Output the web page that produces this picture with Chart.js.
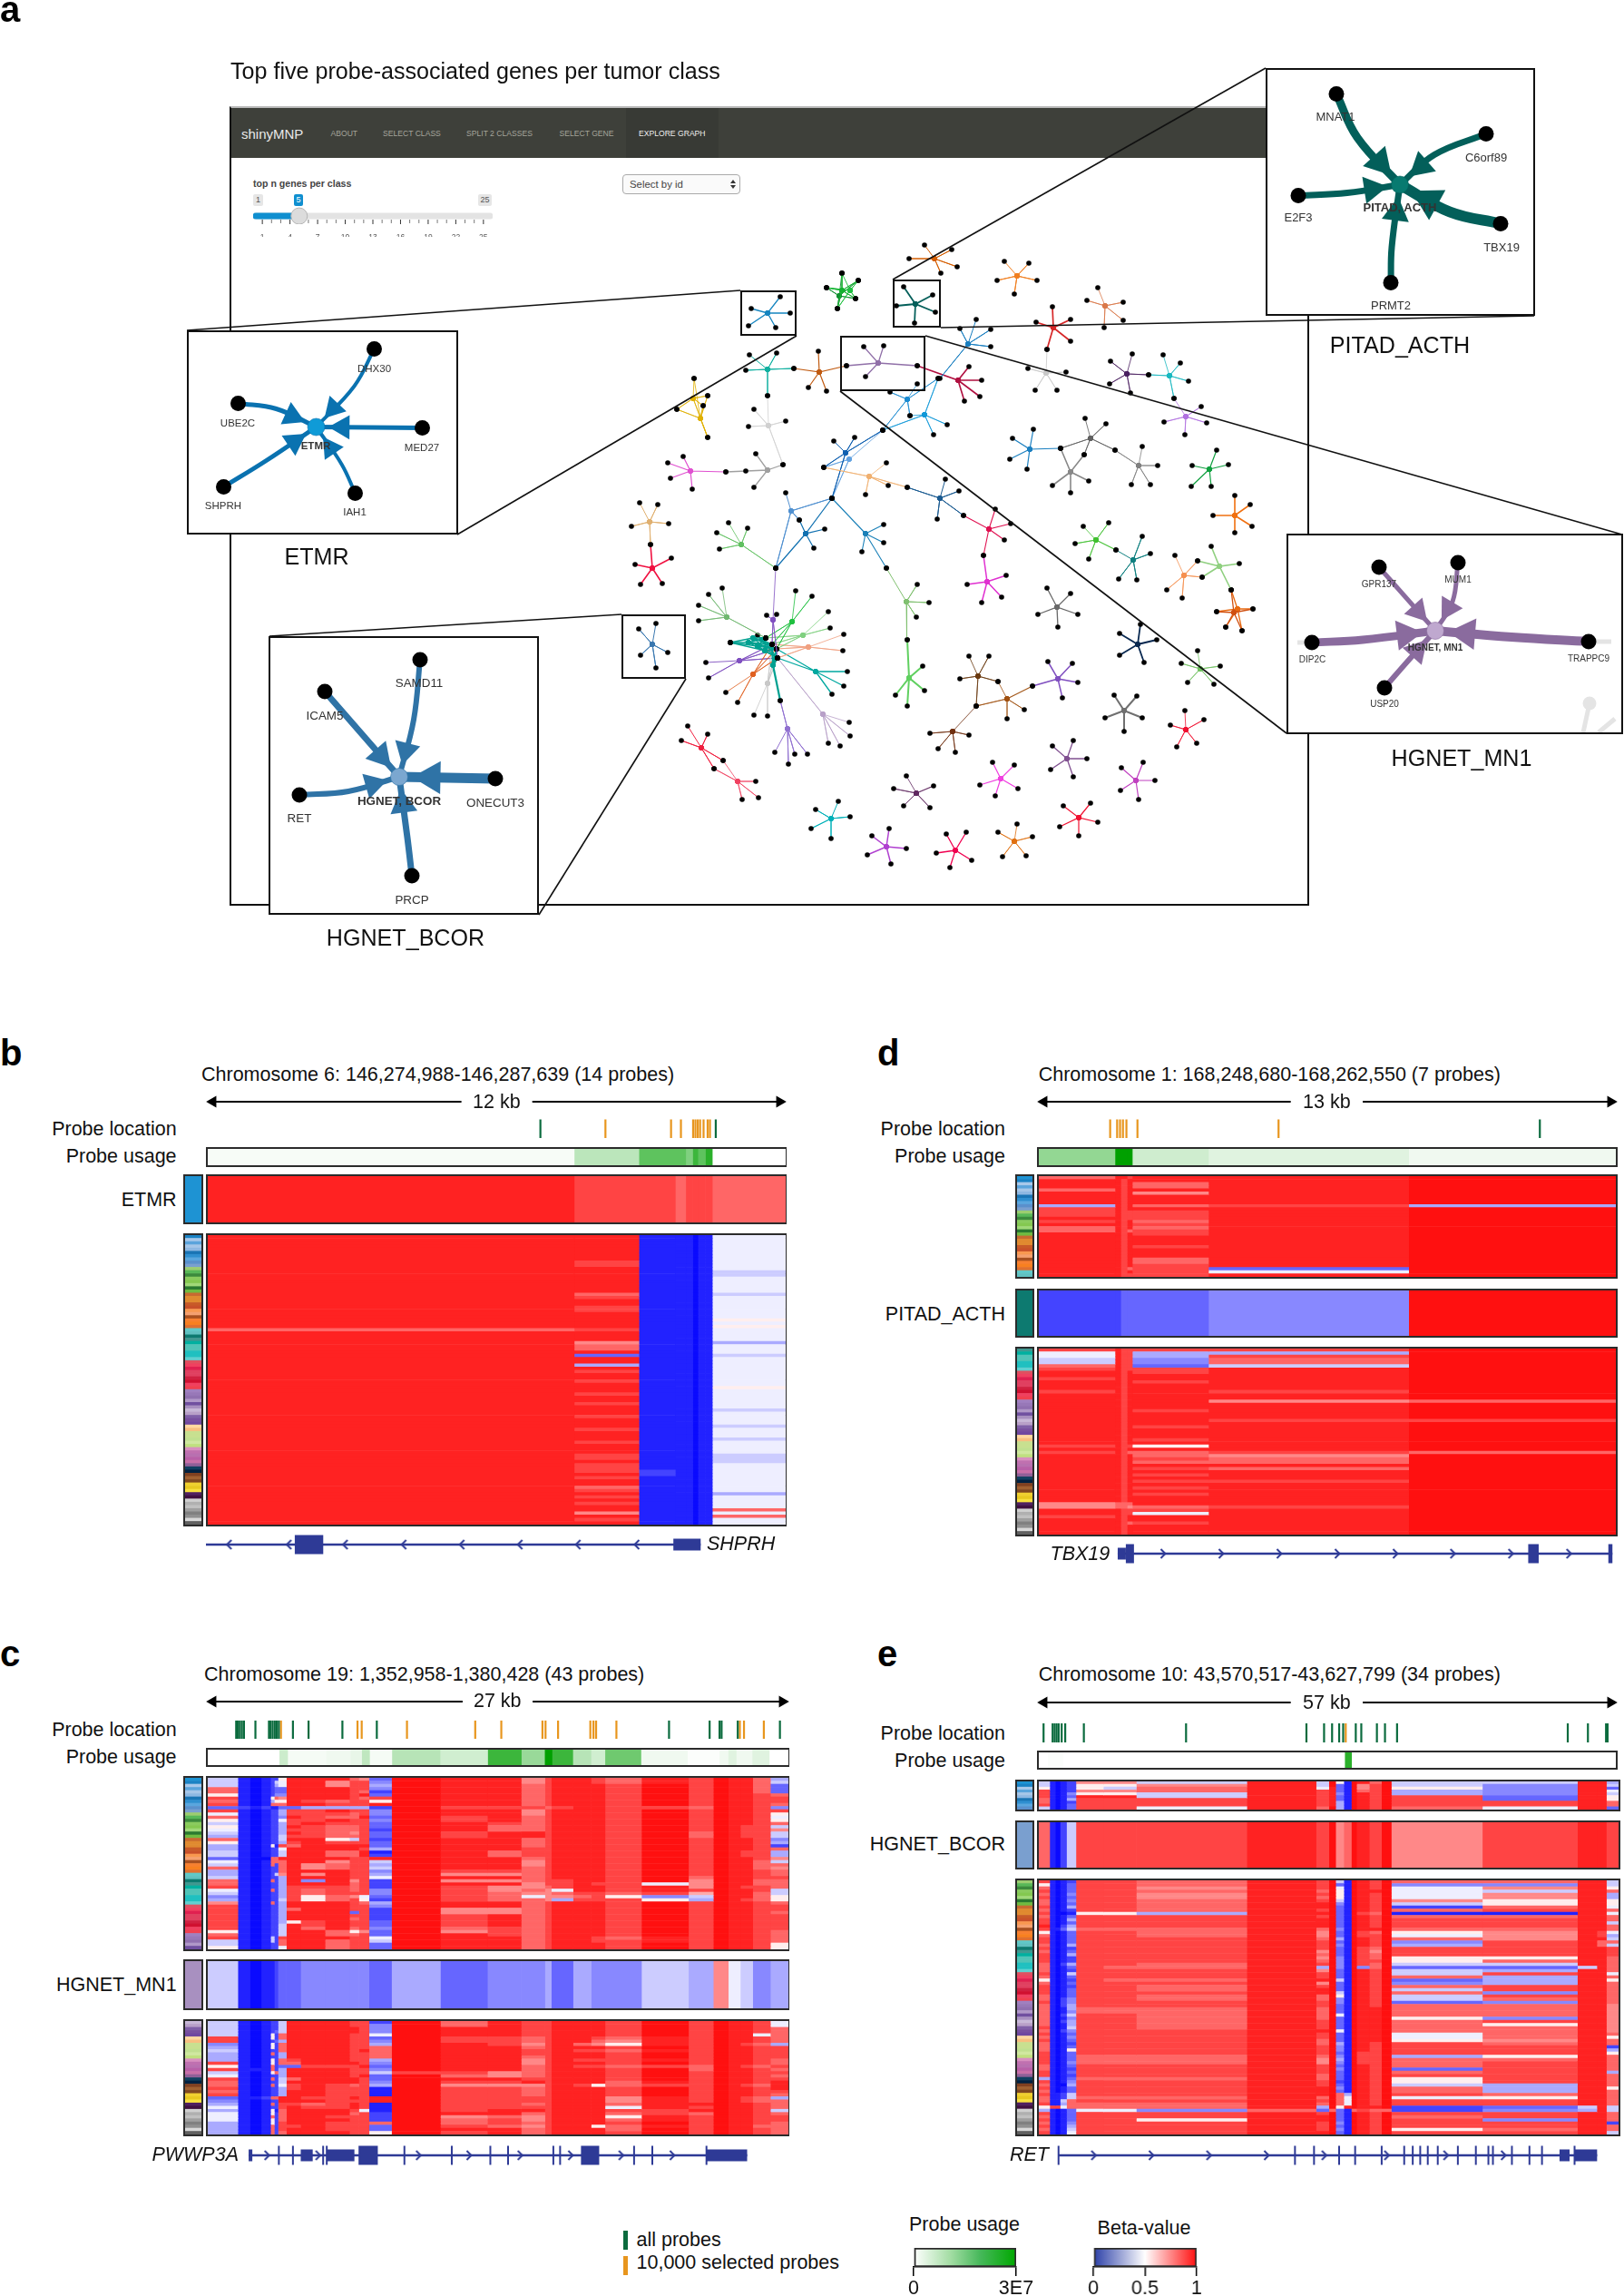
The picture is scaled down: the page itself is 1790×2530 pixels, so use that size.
<!DOCTYPE html>
<html>
<head>
<meta charset="utf-8">
<style>
  body { margin: 0; background: #fff; width: 1790px; height: 2530px; position: relative; overflow: hidden; font-family: "Liberation Sans", Arial, sans-serif; color: #111; }
  .t { position: absolute; white-space: nowrap; line-height: 1; }
  .b { position: absolute; box-sizing: border-box; }
  canvas { position: absolute; left: 0; top: 0; }
</style>
<script src="https://cdn.jsdelivr.net/npm/chart.js@4"></script>
</head>
<body>
<script>
// class colours, in heatmap row order (91 tumor classes)
const classColors = [
  '#1e93d3','#1a82c4','#a8c8ea','#5ba4dc','#a6c6e8','#8eb8e2','#1a75b5','#2f8fd0','#5aa6de','#5a90cc','#7a9fcf',
  '#9ccc70','#58b858','#3c8a3c','#8acb5e','#84c850','#a0d878','#2a7a30','#70bb40',
  '#c86a30','#e08a30','#e08a30','#c85a28','#c8502a','#f89850','#f4a070','#a85020','#f88030','#f88020','#e07030',
  '#60c8c8','#60c0c0','#0d7a70','#409890','#00b0a0','#50c4b8','#50c4b8','#20c0c0','#20c0c0','#60d0d0',
  '#e05060','#f04060','#e02050','#e04060','#e04060','#d02040','#d01030','#f04060','#f04050',
  '#a080c0','#9878b8','#9070b0','#b098c8','#7050a0','#a890c0','#c8b8d8','#b8a0c8','#8060a8','#7850a0','#7048a0',
  '#ffd8a0','#f8c080','#c8e090','#c8e090','#c0e090','#d0e8a0','#c0e080',
  '#d890c0','#c070b0','#b870b0','#b860a8','#c870a8','#906098',
  '#104060','#002040','#804020','#a06030','#804820','#f0d030','#e8c820','#f8e040','#502060','#401040',
  '#d0d0d0','#b0b0b0','#c0c0c0','#a0a0a0','#808080','#909090','#d8d8d8','#606060'
];

// panel b, SHPRH. Column edges and probe positions are % of the region, cells are beta x 15 in hex
const bBreaks = [0,63.4,74.6,80.9,82.7,83.9,84.8,86.1,87.3,100];
const bGreen = [57.6,87.8];
const bOrange = [68.8,80.1,81.8,83.9,84.3,84.7,85.1,85.7,86.4,86.8];
const bUsage = [0.1,0.8,1.9,1.9,1.5,2.3,1.9,2.5,0];
const bTarget = ['eddcddddc'];
const bRows = [
  'ee1110117','ee1110117','ee1110117','ee1110117','ee1110117','ee1110117','ee1110117','ee1110117','ed1110117','ed1110117',
  'ee1110117','ee1110116','ee1110116','ee1110117','ee1110117','ee1110117','ee1110117','ee1110117','ec1110116','ed1110117',
  'ee1110117','ee1110117','ed1110117','ed1110117','ee1110117','ee1110117','ee1110118','ee1110117','ee1110118','cd1110117',
  'ee1110117','ee1110117','ee1110117','eb1110115','ec1110117','ec1110117','ee1110117','e31110116','ee1110117','ee1110117',
  'e51110117','ee1110117','ed1110117','ee1110117','ee1110117','ed1110117','ee1110117','ee1110118','ee1110117','ed1110117',
  'ee1110117','ee1110117','ed1110117','ee1110117','ee1110116','ee1110117','ed1110117','ee1110117','ee1110117','ee1110116',
  'ed1110117','ee1110117','ee1110117','ee1110116','ed1110117','ee1110117','ee1110117','ee1110117','ed1110116','ed1110116',
  'ee1110116','ed1110117','ed1110117','ed2110117','ee2110117','ed1110117','ee1110117','ee1110117','ec1110117','ed1110117',
  'ee1110115','ed1110117','ee1110117','ed1110117','ee1110117','ee111011c','eb1110117','ee111011c','ed1110117','ee1110117'
];

// panel d, TBX19
const dBreaks = [0,13.2,14.2,15.3,16.2,29.4,64.1,100];
const dGreen = [86.6];
const dOrange = [12.6,13.8,14.3,14.8,15.4,17.3,41.6];
const dUsage = [1.27,3,3,3,0.57,0.37,0.18];
const dTarget = ['223334f'];
const dUpper = [
  'ceedeef','eedeeef','eedecef','eedecef','cedeeef','eedebef','eedeeef','eedeeef','eedeeef','5edecd5',
  'dedeeef','dedddef','dedddef','eedddef','dedecef','eededef','cedecef','cedcdef','eededef','eedeeef',
  'eedeeef','eedeeef','eededef','eedeeef','eedeeef','eedeeef','eedecef','eedecef','eededef','eedcd3f',
  'eeded7f','eedddef'
];
const dLower = [
  'deddddf','7edd55f','7edd5df','6edd4cf','6edd4cf','cedd36f','dedddef','eededef','eedeeef','dedeeef',
  'eededef','eedeeef','eedeeef','dedeedf','eedeeef','eedeeef','eedeebc','eedeeef','eedeeef','eededef',
  'eedeeef','eedeeef','eedeedd','eedeeef','eededef','eedeeef','eedeeef','eedeeef','eededef','eedeeef',
  'dedd8ef','eedeeef','dedccdc','eedecbf','eededcf','eedeccf','eedeeef','eededcf','eedeeef','eededef',
  'eedeeef','eededdf','eedeeef','eededef','eedeeef','eededef','eedeeef','eedeeef','bccceef','bccbcdf',
  'eedddef','eedd7ef','dedeeef','eedeeef','eedcdef','eedeeef','eedeeef','eedeeef'
];

// panel c, PWWP3A
const cBreaks = [0,5.18,7.25,9.19,10.81,11.46,12.1,13.53,15.99,20.19,24.4,26.02,27.77,31.65,40.06,48.16,53.98,58.06,59.16,62.91,66.02,68.41,74.69,82.78,87.06,89.64,91.72,93.85,96.89,100];
const cGreen = [5.18,5.45,5.8,6.16,6.52,8.48,10.8,11.07,11.43,11.79,12.14,12.5,14.91,17.59,23.39,29.29,79.38,86.34,88.04,88.39,91.16,98.39];
const cOrange = [12.86,25.98,26.7,34.46,46.16,50.63,57.68,58.21,60.36,65.89,66.43,66.88,70.36,91.52,92.23,95.63];
const cUsageBreaks = [0,12.3,13.75,20.36,24.55,26.5,27.86,31.7,40,48.2,54,58,59.3,62.86,66,68.4,74.6,82.6,88.1,89.6,91,93.75,96.7,100];
const cUsage = [0,0.6,0.12,0.18,0.27,0.75,0.12,0.85,0.55,2.3,1.2,3,2.3,0.85,0.55,1.7,0.18,0.05,0.18,0.37,0.18,0.37,0];
const cTarget = ['6 101 123 34444 3 534453 54465b 764 5'];
const cUpper = [
  '6 101 228 eeecb 3 feebde edcedf eec 5','6 101 267 eebdd 4 feebde edcedf eec 6','6 101 257 eebdd 5 feecde eedfdf eec 3',
  'c 101 233 eeedd 4 feecde eedfdf eec 3','c 101 233 eeedc 2 feecde eedfdf eec 3','8 101 244 eeede 3 feecde eedfdf eed c',
  'd 101 8cb eeedc d feecde eedfdf eed d','c 101 588 edcdd 8 feecde eedfdf eed d','d 101 ccc eeddd e feecde eedfdf eed c',
  '3 212 113 35555 2 fdddcd eeddcf eed 4','d 101 225 ddedd 4 feebde eedfdf eed d','7 101 225 dddcd 4 feebde eedfdf eed 8',
  'c 101 224 edcce 3 fdecde eedfdf eed 7','8 101 227 ddedd 4 fdecde eedfdf eed 8','6 101 225 deddd 3 fedcde eedfdf eed c',
  '8 101 225 edccd 3 feccde eedfdf edd 6','7 101 225 ddccd 2 feccde eedfdf edd b','6 101 225 edcbd 3 fdeede eedfcf edd 6',
  '5 101 226 ddccd 3 fdeede eedfcf edd 6','c 101 226 ee86d 2 feecde eedfdf eed 4','8 101 225 deddd 3 feecde eedfdf eed 5',
  '5 101 81d ceeee 3 feecde eedfdf eed 2','5 101 227 eeeed 5 feedde eedfdf eed c','6 101 226 eecce 1 fecdde eedfdf edd 5',
  '6 101 226 eecce 2 fecdde eedfdf edd 5','3 100 cce eeedd e feecde eedfdf eed b','7 101 ccc eebdd 6 feebde eedfdf eec 6',
  '6 101 c2c ebcdd 5 feebde eedfdf eec c','c 101 22c ebcdd 6 feecde eedfdf eec b','5 101 22c eeedd 4 fddcde eedfdf eed c',
  '5 101 26b ebedd 5 fbbcde eedfdf eed c','6 101 225 eeedd 7 feecde eedfcf eed d','c 101 c25 e4ebd 2 fbbcdd eedfbf eec c',
  'c 101 225 eeecd 2 feebdd edd7bf eec c','d 101 225 dddcd 2 fdbbcd eedebf edd c','7 101 c25 dcdcd 4 fdbcb7 eededf eed 6',
  '6 101 225 dcddd 4 fdcbbc ddcdaf eec 6','4 101 225 d8cb7 3 fdc7bb cd846f eec 8','5 101 226 d8cd8 2 fdccb5 ddd85f edc 8',
  'b 101 c25 eeedc 5 feecde eedfdf eed c','d 101 225 eeedd 4 feecde eedfdf eed d','d 101 225 ceedd 2 fbbcde eedfdf eed d',
  'd 101 225 eee3d 2 fbbcde eedfdf eed c','d 101 225 eeedd 2 fdecde eedfdf eed d','d 101 225 eeecd 2 fdecde eedfdf eed d',
  'd 101 225 8dedd 3 fdecde eedfdf eed d','d 101 226 ededd 3 fdecde eedfdf eed d','d 101 226 ececd 4 fcdcde eedfdf eed d',
  '8 101 226 eec8b 3 fbdcde eedfdf eed c','c 101 226 eeccd 3 fedcde eedfdf eed c','d 101 62d eeedd 7 feecde edcedf eed c',
  '6 101 62c eecdd 6 feecde eddedf eed c','6 101 22c eecdd 3 feecde eedfdf eed 8','8 101 227 eecdd 3 feecde eedfdf eed 8'
];
const cLower = [
  '6 101 226 eeedd 2 fcedde eedfdf eed 7','6 101 226 eeedd 4 fcedde eedfdf eed 7','6 101 226 eeeed 4 feedde eedfdf eed c',
  '6 101 236 eeeed 4 feedde eedfdf eed c','6 101 82c eeedd 7 feedde eedfdf ee7 c','d 101 82c eeedd 3 fddcde edcedf eed c',
  'd 101 235 eeedd 4 fddcde ecbedf eed c','4 101 82c eeedd 5 fedbde cb8edf edc 5','5 101 82c eeedd c feecde eedfdf eed d',
  '6 101 22c eeede c feedde ddcedf eed d','5 101 c25 eeedd c feedde eedfdf eed d','5 101 225 eeedd c feecde eedfdf eed d',
  '5 101 82c deedd 5 feebde dddedf eed c','d 101 82c ceeed 4 feebde eedfdf eed c','8 101 c23 3ddde 3 feecde ddcdcf edc d',
  'd 111 c25 eeedd 4 feecde eedfcf eed c','6 101 8c5 eeedd 6 ddbcde eedfdf eed d','7 101 225 eeede 3 fcbcde eedfdf eed c',
  'd 101 c26 ceeed 3 feedde eedfdf eed d','c 101 226 eeeed 4 fddede eecedf eed e','c 101 c27 dedcd 5 fbbbde d8cddf edc e',
  'd 101 225 deddd 1 fddcde eedfdf eed e','c 101 225 eeddd 1 fddcde eedfdf eed d','d 101 225 eeddd 1 fddcde eedfdf eed c',
  '3 112 cce edded e fdddde eebedf edc 5','4 101 22e eeddd e fdddde eebedf edc c','5 101 c2d dcded 1 fddcde eeceef eed c',
  '7 101 22d edded 1 fdddde ee7edf eed c','5 101 81c eeed7 1 fdeede eeddef eed 6','7 101 82c eeecd 2 feecde eecdcf eed c',
  '7 101 c2c eeddd 2 fbcbde ee8edf eed d','7 101 82c eeedd 2 fcdbde eecedf eed d','5 101 82d eeddd c fcdcde eedfdf eed c',
  '5 101 c2d deddd 3 fdcbde e8cedf eec c','5 101 c2d eeddd 3 feecde eecfdf eed c','5 101 c2c eeedd 8 fdecde eedfdf eed c'
];

// panel e, RET
const eBreaks = [0,1.87,2.84,3.68,4.78,6.4,11.12,16.81,35.88,47.83,50.03,51.2,52.6,53.9,54.8,57,59.1,60.8,76.5,92.9,96.25,97.9,100];
const eGreen = [1.13,2.69,3.04,3.38,3.73,4.25,4.86,8.07,25.67,46.4,49.44,50.82,52.04,52.73,54.9,55.85,58.54,59.93,62.01,91.41,94.88,98,98.27];
const eOrange = [53.17];
const eUsageBreaks = [0,1.5,4.2,53,54.2,100];
const eUsage = [0,0.05,0,2.5,0];
const eTarget = ['c 1026 ddd edf bc fedf bd eed'];
const eUpper = [
  '6 1012 bb6 e6f 81 fecf 66 ee5','6 1012 88b e6f 31 fbdf 64 ee6','8 1012 86c e7e 31 fbdf 84 ee3','d 1012 bbc ede 31 fcdf 54 ee7',
  'd 1014 886 ede 41 fedf 54 ee6','d 1013 ee6 ede 31 fedf d3 ee8','c 1015 ddd ede 31 fedf d3 ee8','c 1012 ddd ede 51 fedf dd eec',
  'd 1013 ddd ede 51 fedf dd eec','6 1013 dd7 ecf 51 fedf c7 ee3'
];
const eLower = [
  'd 1012 ddc edf 61 fedf cc ee6','8 1013 ddc edf 31 fedf 44 ee6','c 1013 ddb edf 71 fedf 7b ee8','d 1013 ddc ecf 81 feef 76 eec',
  'c 1014 ddb edf 81 fedf 7b ee5','d 1013 ddb ecf 81 fedf 7b ee5','c 1014 ddc edf 61 fedf b8 ee8','c 1013 ddc eef 41 fedf 68 ee8',
  'd 1015 ddc eef 31 fedf 2c ee7','c 1012 ddc edf 31 fedf cd eec','d 1001 885 eef 31 fdcf 11 ee7','c 1013 ddd edf 31 fedf cc eec',
  'd 1015 ddd eef 31 fedf dd eec','d 1013 ddd eef 31 fedf dd ee6','e 1025 ddd eef 31 fedf dd eec','d 1136 ccc ecf 41 feef cc eec',
  '8 1013 ddc ebf 31 fdcf 8b ed7','c 1013 ddc ebf 31 fddf 7b ed5','d 1013 ddd ecf 51 fedf cb ee6','d 1013 ddd edf 31 fedf 4d ecc',
  'c 1015 ddd edf 41 fedf 5d ec6','d 1012 ddd edf 31 fdcf dd eed','c 1013 ddd ebf 31 fdbf dd eed','d 1015 ddd ecf 31 fdcf dd eed',
  'd 1012 ddd ebf 41 fdcf 88 eec','d 1012 ddd ecf 41 fddf 8c eec','c 1025 ddc edf 41 fdcf 66 eec','c 1013 dcc e5f 41 f4cf 33 6ec',
  'c 1012 ddd ebf 31 fedf 65 eec','d 1016 ddd edf 31 fedf 6d ee7','c 1013 ddd edf 31 fedf c5 eec','8 1012 dcc eef 61 fedf 35 ee8',
  'c 1013 ddd ebf 31 fedf 45 eec','d 1012 ddc edf 31 fedf cd eec','d 1013 ddc eef 31 fedf 6d eec','d 1013 ddd eef 61 fedf c4 eec',
  'c 1013 ddc ecf 81 fedf 6d eec','c 1024 ddc ecf 41 fedf 6c eec','d 1024 ddd edf 41 fedf 34 eec','c 1025 ddd edf 31 fedf cc eeb',
  'c 1015 ccc ecf 31 feef cc eeb','c 1014 ccc ecf 31 feef cc eeb','c 1026 ddc ecf 71 feef cc eeb','c 1014 ddc ecf 31 feef 84 eeb',
  'c 1025 ddc edf 31 feef cd eeb','c 1015 ddc edf 31 feef c8 eeb','d 1016 ddc edf 31 feef cc eeb','c 1024 ddd eef 71 feef cc eeb',
  'd 1013 ddd edf 31 feef 7c eec','c 1014 ddd edf 31 feef 7c ee8','d 1013 ddd ecf 31 feef 8b eec','c 1012 ddd ecf 51 fedf dc eec',
  'c 1013 ddd edf 41 fedf dd ee2','c 1018 ddd edf 41 fedf dd ee5','d 1013 ddd edf 31 fddf dd ee8','d 1013 ccc ecf 41 fddf 58 eec',
  'd 1013 ccc ebf 51 fddf cc eec','d 1014 ccc ebf 41 fddf cd eec','c 1013 ddd edf 31 fedf cd eec','c 1012 ddd edf 41 fedf 3d eec',
  'd 1013 ddd edf 31 fedf cd ee5','d 1012 ddd ecf 31 fedf dd eec','5 1013 ccc ecf 31 fedf 8d eec','d 1014 ddd edf 21 fedf 8d eec',
  'c 1005 ddd edf 31 fedf 65 eec','d 1013 ddd eef 41 fedf c5 ee8','c 1013 ddd eef 31 fedf c5 eec','d 1126 ddd eef c5 fedf dc eec',
  'c 1126 ccc ecf c7 fedf 78 eec','c 116c ddd edf c7 fedf dd eec','d 115c ccc ecf c7 fedf dd eec','8 dd7c ccc e5f 8e feef 23 6e6',
  '5 1013 774 c3c 31 cdcc 24 5e6','d 1013 ddd edf 31 fedf dd eec','c 1013 ddd eef 31 fedf cd eec','d 1013 dd8 eef 31 fedf d4 eec',
  'c 1014 ddd edf 41 fedf dd ee2','d 1015 ddd edf 31 fedf dd eec','c 1016 ddd edf 41 fedf 8c eec','d 1017 ddd eef 31 fedf dd ee6'
];

// gene models: % of region. exons [start, end], narrow exons, chevrons
const bGene = { line: [0,85.2], tall: [[15.3,20.2]], mid: [[80.5,85.2]], narrow: [], arrows: [4,14.3,24,34.1,44.1,54.1,64.1,74.2], left: true };
const dGene = { line: [13.9,99.1], tall: [[15.3,16.7],[84.6,86.4],[98.4,99.1]], mid: [[13.9,15.3]], narrow: [], arrows: [21.7,31.7,41.7,51.7,61.7,71.6,81.6,91.6], left: false };
const cGene = { line: [7.32,92.77], tall: [[26.16,29.46],[64.29,67.41]], mid: [[7.32,7.95],[16.25,18.3],[20.71,25.45],[85.8,92.77]],
  narrow: [12.5,14.91,20.09,20.71,34.02,42.14,48.75,51.79,59.55,60.71,73.39,76.52,85.8], arrows: [10.45,19.2,36.43,45.09,53.84,62.5,71.16,79.91], left: false };
const eGene = { line: [3.71,96.46], tall: [], mid: [[89.99,91.72],[92.58,96.46]],
  narrow: [3.71,44.43,47.71,52.03,54.79,59.36,63.24,64.71,66,67.3,69.02,72.48,75.58,77.74,78.52,81.79,84.81,86.97,92.58], arrows: [9.75,19.67,29.59,39.52,49.44,60.22,70.41,80.33], left: false };

// network of panel a, hub and leaf positions
const netHubs = [
  [1030,285],[1121,304],[928,320],[937,320],[925,326],[1009,335],[1218,337],[1161,361],[1067,379],[1153,411],
  [1242,412],[1289,414],[968,400],[1056,419],[903,410],[1307,459],[1000,440],[1019,457],[1135,495],[1202,483],
  [1180,520],[1255,513],[1333,517],[1361,568],[1036,549],[958,525],[932,499],[936,506],[954,588],[1090,583],
  [1088,641],[1208,595],[1249,617],[1305,634],[1344,624],[1360,675],[1364,671],[1165,669],[1254,710],[1323,737],
  [999,663],[1002,747],[1078,745],[1110,770],[1166,748],[1239,783],[1307,804],[1050,806],[1176,836],[1252,860],
  [1103,858],[1010,874],[1189,901],[1118,927],[1053,937],[977,933],[916,902],[716,575],[719,626],[817,600],
  [872,563],[888,588],[719,710],[801,680],[852,683],[873,685],[885,700],[891,713],[899,740],[830,703],
  [835,712],[843,717],[825,708],[840,705],[852,733],[830,743],[846,753],[815,728],[907,787],[868,803],
  [773,824],[813,861],[846,345],[846,407],[764,439],[772,461],[847,469],[761,519],[846,518]
];
const netLeaves = [
  [[1019,270],[1049,275],[1002,285],[1055,294],[1037,301]], [[1107,288],[1134,290],[1099,309],[1143,309],[1118,324]],
  [[928,301],[946,309],[911,317],[943,329],[923,340]], [[928,301],[946,309],[911,317],[943,329],[923,340]], [[928,301],[946,309],[911,317],[943,329],[923,340]],
  [[996,316],[1028,325],[988,337],[1031,344],[1008,356]], [[1210,317],[1198,331],[1238,333],[1238,353],[1217,361]],
  [[1160,338],[1142,355],[1180,352],[1180,376],[1154,385]], [[1076,352],[1058,362],[1092,363],[1092,382],[1036,417]],
  [[1154,385],[1133,406],[1175,410],[1141,430],[1165,430]], [[1248,390],[1224,398],[1223,423],[1246,433],[1266,413]],
  [[1282,391],[1301,400],[1266,413],[1310,420],[1294,439]], [[952,382],[974,381],[933,403],[1011,403],[954,415]],
  [[1011,403],[1068,404],[1082,419],[1080,437],[1063,442]], [[933,403],[902,387],[911,431],[875,406],[891,427]],
  [[1294,439],[1324,448],[1283,465],[1330,466],[1306,479]], [[1011,423],[981,432],[1034,417],[1003,458],[973,474]],
  [[1003,458],[1034,417],[1044,468],[1029,479],[973,474]], [[1139,473],[1116,483],[1113,506],[1132,517],[1169,494]],
  [[1196,461],[1219,467],[1169,494],[1229,496],[1195,501]], [[1169,494],[1195,501],[1160,535],[1200,530],[1180,543]],
  [[1259,492],[1229,496],[1276,513],[1247,534],[1268,534]], [[1341,496],[1354,512],[1314,513],[1313,536],[1335,536]],
  [[1361,546],[1378,556],[1337,568],[1380,580],[1361,587]], [[1042,528],[1057,541],[1000,537],[1033,572],[1062,568]],
  [[977,510],[979,535],[954,545],[908,515],[1000,537]], [[919,486],[942,482],[973,474],[908,515],[917,549]],
  [[973,474],[917,549],[908,515]], [[974,578],[974,598],[950,608],[977,626],[917,549]],
  [[1097,561],[1062,568],[1114,577],[1107,595],[1084,612]], [[1084,612],[1109,634],[1066,644],[1104,658],[1082,664]],
  [[1194,580],[1222,576],[1185,599],[1200,616],[1230,606]], [[1230,606],[1259,591],[1268,610],[1233,638],[1253,639]],
  [[1295,612],[1320,618],[1325,636],[1286,650],[1303,659]], [[1335,602],[1366,621],[1320,618],[1325,636],[1357,650]],
  [[1357,650],[1381,671],[1341,674],[1351,691],[1369,695]], [[1357,650],[1381,671],[1341,674],[1351,691],[1369,695]],
  [[1154,648],[1180,654],[1144,677],[1188,677],[1166,691]], [[1257,688],[1234,698],[1275,705],[1234,722],[1261,730]],
  [[1320,717],[1302,731],[1345,734],[1309,752],[1338,754]], [[977,626],[1011,644],[1024,664],[1010,680],[1000,705]],
  [[1000,705],[1017,734],[1019,761],[987,766],[1000,778]], [[1068,723],[1090,723],[1058,748],[1100,751],[1076,778]],
  [[1100,751],[1138,756],[1076,778],[1129,782],[1110,792]], [[1155,729],[1182,731],[1138,756],[1188,752],[1171,769]],
  [[1228,766],[1253,767],[1218,791],[1259,791],[1239,806]], [[1306,783],[1290,799],[1327,793],[1297,823],[1319,819]],
  [[1076,778],[1025,808],[1068,810],[1034,825],[1053,829]], [[1160,822],[1183,816],[1198,836],[1158,848],[1183,856]],
  [[1236,846],[1260,840],[1273,860],[1235,871],[1255,881]], [[1094,840],[1118,843],[1080,865],[1122,869],[1097,877]],
  [[999,855],[1029,866],[985,869],[996,888],[1025,890]], [[1172,888],[1202,885],[1210,906],[1168,911],[1189,921]],
  [[1121,908],[1100,917],[1138,922],[1105,944],[1131,943]], [[1043,919],[1065,917],[1032,940],[1071,948],[1047,956]],
  [[980,913],[961,921],[999,935],[956,942],[982,952]], [[924,883],[899,892],[937,900],[894,913],[916,924]],
  [[705,554],[725,556],[696,580],[737,577],[717,600]], [[717,600],[740,615],[700,622],[706,644],[730,643]],
  [[803,576],[824,582],[790,587],[793,605],[855,626]], [[866,543],[917,549],[881,573],[855,626]],
  [[881,573],[909,583],[897,604],[855,626],[917,549]], [[723,687],[704,693],[736,719],[706,722],[723,736]],
  [[796,648],[781,655],[770,667],[770,684],[844,703]], [[855,626],[845,678],[856,677],[851,710],[857,725]],
  [[877,651],[895,657],[844,703],[851,710],[856,715]], [[913,674],[915,692],[851,710],[856,715],[844,703]],
  [[930,699],[929,717],[851,710],[856,715],[857,725]], [[934,740],[930,756],[917,765],[857,725],[856,715]],
  [[805,708],[844,703],[851,710],[856,715],[857,725]], [[805,708],[844,703],[851,710],[856,715],[857,725]],
  [[805,708],[844,703],[851,710],[856,715],[857,725]], [[805,708],[844,703],[851,710],[856,715],[857,725]],
  [[844,703],[851,710],[856,715],[857,725],[835,700]], [[857,725],[851,710],[860,772],[856,715]],
  [[800,763],[813,774],[857,725],[851,710],[856,715]], [[831,788],[846,789],[857,725],[851,710],[856,715]],
  [[778,730],[781,747],[851,710],[857,725],[856,715]], [[936,796],[937,811],[913,819],[926,822],[857,725]],
  [[854,829],[869,842],[876,831],[890,831],[860,772]], [[758,800],[780,809],[751,816],[797,838],[787,847]],
  [[797,838],[787,847],[833,861],[818,881],[836,879]], [[860,327],[828,340],[871,345],[825,359],[855,361]],
  [[826,391],[856,389],[822,408],[875,406],[846,436]], [[765,417],[780,436],[746,451],[775,447],[780,482]],
  [[765,417],[780,436],[746,451],[775,447],[780,482]], [[846,436],[831,451],[866,464],[825,470],[863,512]],
  [[753,503],[736,510],[800,520],[739,527],[763,539]], [[822,519],[800,520],[833,500],[831,537],[863,512]]
];
const netColors = [
  '#d55e00','#f07f20','#14b030','#20c040','#109030','#045f5a','#d9784a','#d62728','#1a7fc0','#c8c8c8',
  '#4a2060','#18b8c0','#9070a8','#b01040','#c05a10','#b070e0','#1a8ad0','#1098d8','#1a7fc0','#606060',
  '#888888','#808080','#10a040','#f07010','#1a5a90','#f0b070','#1060b0','#60a0e0','#1a80b8','#e01050',
  '#e030d0','#40c030','#108080','#f59050','#90d080','#d05010','#e86a10','#686868','#082850','#70c060',
  '#80c070','#60d060','#6a3a10','#a05010','#8050c0','#707070','#f01030','#703010','#805090','#c040c0',
  '#f040e0','#602860','#f01030','#e07010','#f00050','#b040d0','#00b0b8','#e0b070','#f01040','#60c060',
  '#5090d0','#1070b0','#3a78b0','#70b870','#8050c0','#20c040','#80d080','#f0a080','#00a8a0','#00a090',
  '#00a090','#00a090','#00a090','#00a090','#00a090','#e06020','#c8c8c8','#8050c0','#b8a0c8','#9070d0',
  '#f02040','#f04060','#1585c0','#10b0a0','#e0b000','#e0b000','#d0d0d0','#e050d0','#a0a0a0'
];
const netWidths = [
  1,1,0.9,0.9,0.9,1.8,0.8,1.7,1,0.8,0.8,0.8,1.3,1.6,1.2,0.8,0.8,0.8,1.2,0.8,
  1.6,0.8,1.2,1.6,1,0.8,1,0.8,1.1,1.1,1.5,0.8,1,0.8,1.6,1.3,1.3,1.3,1.8,0.8,
  1,2,0.8,0.8,1.5,2,0.8,0.8,1.3,1.2,1.2,0.8,1.2,0.8,1.3,1.5,1,1,1.6,0.8,
  1,1.2,1,0.8,0.8,0.8,0.8,0.8,1.3,1.3,
  1.3,1.3,1.3,1.3,2.2,0.8,0.8,0.9,0.8,1,1,0.8,1.3,1,0.8,0.8,0.8,1.2,1.3
];
const zoomLines = [
  [[816,320],[206,364]], [[878,370],[504,589]], [[984,308],[1395,75]], [[1037,361],[1691,348]],
  [[1020,370],[1788,589]], [[926,431],[1418,808]], [[685,677],[297,701]], [[756,748],[594,1008]]
];

// zoomed insets: leaf, optional bend point, edge width
const etmrLeaves = [[412,384],[262,444],[465,471],[246,536],[391,543]];
const etmrBends = [[390,425],[304,450],null,[293,507],[376,511]];
const etmrWidths = [4,5,5,5,4];
const acthLeaves = [[1473,103],[1638,147],[1431,215],[1654,246],[1533,311]];
const acthBends = [[1496,151],[1581,170],[1485,212],[1598,233],[1534,272]];
const acthWidths = [9,7,7,12,7];
const mn1Leaves = [[1520,625],[1607,620],[1446,708],[1751,707],[1526,758]];
const mn1Bends = [null,[1601,663],[1502,705],[1666,702],[1553,727]];
const mn1Widths = [5,5,9,10,6];
const mn1GhostNodes = [[1752,775]];
const bcorLeaves = [[463,727],[358,762],[330,876],[546,858],[454,965]];
const bcorBends = [[456,793],null,[384,872],null,[449,923]];
const bcorWidths = [6,7,6,11,7];

// colour bars and slider
const usageTicks = [0,3];
const usageTickLabels = ['0','3E7'];
const betaTicks = [0,0.5,1];
const betaTickLabels = ['0','0.5','1'];
const sliderMajor = [1,4,7,10,13,16,19,22,25];
const sliderMinor = [2,3,5,6,8,9,11,12,14,15,17,18,20,21,23,24];

const INK = '#2b2b2b';
const GENE = '#2e3a96';
const GREEN = '#0b6b3e';
const ORANGE = '#e8961e';
const LABEL = 21.5;

function el(cls, css, parent) {
  const d = document.createElement('div');
  d.className = cls;
  d.style.cssText = css;
  (parent || document.body).appendChild(d);
  return d;
}

// y is the vertical centre of the text, anchor l/c/r on x
function text(str, x, y, size, opts) {
  const o = opts || {};
  const shift = o.anchor === 'r' ? '-100%' : o.anchor === 'l' || !o.anchor ? '0' : '-50%';
  const d = el('t', `left:${x}px;top:${y + 0.6}px;font-size:${size}px;transform:translate(${shift},-50%);` +
    `font-weight:${o.bold ? 'bold' : 'normal'};font-style:${o.italic ? 'italic' : 'normal'};color:${o.color || '#111'}`);
  d.textContent = str;
  return d;
}

function canvasAt(x, y, w, h, parent) {
  const c = document.createElement('canvas');
  c.width = w; c.height = h;
  c.style.cssText = `left:${x}px;top:${y}px;width:${w}px;height:${h}px`;
  (parent || document.body).appendChild(c);
  return c;
}

function baseOptions(scales, pad) {
  return {
    animation: false, responsive: false, events: [],
    layout: { padding: pad || 0, autoPadding: false },
    plugins: { legend: { display: false }, tooltip: { enabled: false } },
    scales
  };
}

function betaColor(ch) {
  const t = parseInt(ch, 16) / 15;
  if (t < 0.5) { const v = Math.max(10, Math.round(510 * t)); return `rgb(${v},${v},255)`; }
  const v = Math.max(16, Math.round(510 * (1 - t)));
  return `rgb(255,${v},${v})`;
}
function usageColor(v) {
  const t = v / 3;
  return `rgb(${Math.round(255 - 255 * t)},${Math.round(255 - 95 * t)},${Math.round(255 - 255 * t)})`;
}
function betaRows(rows) {
  return rows.map(r => Array.from(r.replace(/\s/g, '')).map(betaColor));
}

// framed stacked horizontal bars, one bar per row, one dataset per column
function stripes(x, y, w, h, breaks, colorRows) {
  const box = el('b', `left:${x}px;top:${y}px;width:${w}px;height:${h}px;border:2px solid ${INK};background:#fff`);
  const c = canvasAt(0, 0, Math.round(w - 4), Math.round(h - 4), box);
  new Chart(c, {
    type: 'bar',
    data: {
      labels: colorRows.map((_, i) => i),
      datasets: breaks.slice(1).map((b, i) => ({
        data: colorRows.map(() => b - breaks[i]),
        backgroundColor: colorRows.map(r => r[i]),
        barPercentage: 1, categoryPercentage: 1, borderWidth: 0
      }))
    },
    options: Object.assign(baseOptions({
      x: { stacked: true, min: 0, max: 100, display: false },
      y: { stacked: true, display: false }
    }), { indexAxis: 'y' })
  });
}

function heatBlock(p, y, h, rows, classes) {
  stripes(p.stripX, y, p.stripW, h, [0, 100], classes.map(col => [col]));
  stripes(p.x, y, p.w, h, p.breaks, betaRows(rows));
}

// double arrow plus probe ticks, all on the region scale
function track(p) {
  const top = p.arrowY - 10, bottom = p.tickY2 + 1, pad = 10;
  const c = canvasAt(p.x - pad, top, p.usageW + pad * 2, bottom - top);
  const tickY = (p.tickY1 + p.tickY2) / 2, tickR = (p.tickY2 - p.tickY1) / 2;
  const ticks = (list, color) => ({
    data: list.map(v => ({ x: v, y: tickY })), pointStyle: 'line', rotation: 90, pointRadius: tickR,
    pointBorderColor: color, pointBorderWidth: 2.2, showLine: false, clip: false
  });
  const shaft = (a, b) => ({
    data: [{ x: a, y: p.arrowY }, { x: b, y: p.arrowY }], showLine: true, borderColor: '#000', borderWidth: 2, pointRadius: 0, clip: false
  });
  const head = (v, rot) => ({
    data: [{ x: v, y: p.arrowY }], pointStyle: 'triangle', rotation: rot, pointRadius: 7.5,
    pointBackgroundColor: '#000', pointBorderWidth: 0, clip: false
  });
  new Chart(c, {
    type: 'scatter',
    data: { datasets: [ticks(p.green, GREEN), ticks(p.orange, ORANGE), shaft(1, p.gap[0]), shaft(p.gap[1], 99), head(1.2, -90), head(98.8, 90)] },
    options: baseOptions({
      x: { min: 0, max: 100, display: false },
      y: { min: top, max: bottom, reverse: true, display: false }
    }, { left: pad, right: pad })
  });
}

function chevron(left) {
  const c = document.createElement('canvas');
  c.width = 8; c.height = 12;
  const g = c.getContext('2d');
  g.strokeStyle = GENE; g.lineWidth = 2;
  g.beginPath();
  if (left) { g.moveTo(6.5, 1); g.lineTo(1.5, 6); g.lineTo(6.5, 11); }
  else { g.moveTo(1.5, 1); g.lineTo(6.5, 6); g.lineTo(1.5, 11); }
  g.stroke();
  return c;
}

function geneTrack(p, gene, y) {
  const h = 26;
  const c = canvasAt(p.x, y - h / 2, p.usageW, h);
  const blocks = (list, width) => ({
    data: list.flatMap(e => [{ x: e[0], y: 0 }, { x: e[1], y: 0 }, { x: e[1], y: null }]),
    showLine: true, spanGaps: false, borderColor: GENE, borderWidth: width, borderCapStyle: 'butt', pointRadius: 0
  });
  new Chart(c, {
    type: 'scatter',
    data: { datasets: [
      { data: gene.narrow.map(v => ({ x: v, y: 0 })), pointStyle: 'line', rotation: 90, pointRadius: 10.5, pointBorderColor: GENE, pointBorderWidth: 2 },
      { data: gene.arrows.map(v => ({ x: v, y: 0 })), pointStyle: chevron(gene.left), pointRadius: 6 },
      blocks(gene.tall, 21), blocks(gene.mid, 13), blocks([gene.line], 2.4)
    ] },
    options: baseOptions({
      x: { min: 0, max: 100, display: false },
      y: { min: -1, max: 1, display: false }
    })
  });
}

function panel(p) {
  text(p.letter, p.letterX, p.letterY, 40, { bold: true, color: '#000' });
  text(p.title, p.titleX, p.titleY, LABEL);
  track(p);
  const gapMid = (p.gap[0] + p.gap[1]) / 2;
  text(p.span, p.x + p.usageW * gapMid / 100, p.arrowY, LABEL, { anchor: 'c' });
  text('Probe location', p.labelX, p.locY, LABEL, { anchor: 'r' });
  text('Probe usage', p.labelX, p.useY, LABEL, { anchor: 'r' });
  stripes(p.x, p.usageY, p.usageW, p.usageH, p.usageBreaks, [p.usage.map(usageColor)]);
  p.blocks.forEach(b => heatBlock(p, b.y, b.h, b.rows, classColors.slice(b.from, b.to)));
  text(p.target, p.labelX, p.targetY, LABEL, { anchor: 'r' });
  geneTrack(p, p.gene, p.geneY);
  text(p.geneName, p.geneX, p.geneTextY, LABEL, { anchor: p.geneAnchor, italic: true });
}

// -------- panel a background: the app screenshot
el('b', `left:253px;top:117px;width:1190px;height:881px;border:2.5px solid #111;border-top:2px solid #bbb`);
el('b', `left:254.5px;top:119px;width:1150px;height:55px;background:#3e403a`);
el('b', `left:690px;top:119px;width:102px;height:55px;background:#383a35`);
text('shinyMNP', 266, 146, 15, { color: '#e8e8e8' });
[['ABOUT',364.5],['SELECT CLASS',422],['SPLIT 2 CLASSES',514],['SELECT GENE',616.5]].forEach(n => text(n[0], n[1], 146, 8.6, { color: '#a5a59c' }));
text('EXPLORE GRAPH', 704, 146, 8.6, { color: '#f0f0f0' });
text('top n genes per class', 279, 201, 10.6, { bold: true, color: '#444' });
el('b', `left:686px;top:192px;width:130px;height:22px;border:1px solid #aaa;border-radius:4px;background:#fafafa`);
text('Select by id', 694, 203, 11.4, { color: '#444' });
el('b', `left:805px;top:198px;width:0;height:0;border:3px solid transparent;border-bottom:4px solid #333;border-top:0`);
el('b', `left:805px;top:204px;width:0;height:0;border:3px solid transparent;border-top:4px solid #333;border-bottom:0`);

// slider, drawn on its own 0-26 scale
{
  const c = canvasAt(279, 228, 264, 33);
  new Chart(c, {
    type: 'scatter',
    data: { datasets: [
      { data: [{ x: 5, y: 0.47 }], pointRadius: 9, pointBackgroundColor: '#dcdcdc', pointBorderColor: '#b5b5b5', pointBorderWidth: 1 },
      { data: [{ x: 0.3, y: 0.47 }, { x: 5, y: 0.47 }], showLine: true, borderColor: '#0f8fd0', borderWidth: 7, borderCapStyle: 'round', pointRadius: 0 },
      { data: [{ x: 0.3, y: 0.47 }, { x: 25.7, y: 0.47 }], showLine: true, borderColor: '#e3e3e3', borderWidth: 7, borderCapStyle: 'round', pointRadius: 0 },
      { data: sliderMajor.map(v => ({ x: v, y: 0.08 })), pointStyle: 'line', rotation: 90, pointRadius: 3.5, pointBorderColor: '#333', pointBorderWidth: 1 },
      { data: sliderMinor.map(v => ({ x: v, y: 0.16 })), pointStyle: 'line', rotation: 90, pointRadius: 2, pointBorderColor: '#777', pointBorderWidth: 1 }
    ] },
    options: baseOptions({
      x: {
        min: 0, max: 26, border: { display: false }, grid: { display: false },
        afterBuildTicks: a => { a.ticks = sliderMajor.map(value => ({ value })); },
        afterFit: a => { a.height = 14; },
        ticks: { autoSkip: false, maxRotation: 0, padding: 2, color: '#555', font: { size: 8.5, family: 'Liberation Sans' }, callback: v => String(v) }
      },
      y: { min: 0, max: 1, display: false }
    })
  });
}
[['1',279,11,'#e6e6e6','#555'],['5',324,10,'#0f8fd0','#fff'],['25',527,15,'#e6e6e6','#555']].forEach(s => {
  const d = el('b', `left:${s[1]}px;top:213.5px;width:${s[2]}px;height:13px;background:${s[3]};border-radius:2px;color:${s[4]};font-size:9px;line-height:13px;text-align:center`);
  d.textContent = s[0];
});

// -------- the whole network on page-sized scales
{
  const datasets = [];
  zoomLines.forEach(l => datasets.push({
    data: l.map(q => ({ x: q[0], y: q[1] })), showLine: true, borderColor: '#111', borderWidth: 1.6, pointRadius: 0
  }));
  netHubs.forEach((hub, i) => {
    const color = netColors[i];
    const h = { x: hub[0], y: hub[1] };
    datasets.push({
      data: netLeaves[i].flatMap(q => [{ x: q[0], y: q[1] }, h]),
      showLine: true, borderColor: color, borderWidth: netWidths[i],
      pointRadius: 2.8, pointBorderWidth: 0,
      pointBackgroundColor: ctx => ctx.dataIndex % 2 ? color : '#000'
    });
  });
  const c = canvasAt(0, 0, 1790, 1100);
  new Chart(c, {
    type: 'scatter',
    data: { datasets },
    options: baseOptions({
      x: { min: 0, max: 1790, display: false },
      y: { min: 0, max: 1100, reverse: true, display: false }
    })
  });
}
[[816,320,62,50],[984,308,53,53],[926,370,94,61],[685,677,71,71]].forEach(b =>
  el('b', `left:${b[0]}px;top:${b[1]}px;width:${b[2]}px;height:${b[3]}px;border:2.5px solid #111`));

// zoomed inset with thick curved edges and arrowheads
function inset(b, hub, leaves, bends, widths, edgeColor, hubColor, labels, ghosts, ghostNodes) {
  const box = el('b', `left:${b[0]}px;top:${b[1]}px;width:${b[2]}px;height:${b[3]}px;border:2.2px solid #111;background:#fff`);
  const w = Math.round(b[2] - 4), h = Math.round(b[3] - 4);
  const c = canvasAt(0, 0, w, h, box);
  const pt = q => ({ x: q[0], y: q[1] });
  const heads = leaves.map((q, i) => {
    const from = bends[i] || q;
    const dx = hub[0] - from[0], dy = hub[1] - from[1], len = Math.hypot(dx, dy);
    const off = 24 + widths[i];
    return { x: hub[0] - dx / len * off, y: hub[1] - dy / len * off, rot: Math.atan2(dy, dx) * 180 / Math.PI + 90, r: 11 + widths[i] * 0.9 };
  });
  const datasets = [
    { data: [pt(hub)], pointRadius: 9.5, pointBackgroundColor: hubColor, pointBorderColor: edgeColor, pointBorderWidth: 0.6 },
    { data: leaves.map(pt), pointRadius: 8.5, pointBackgroundColor: '#000', pointBorderWidth: 0 },
    { data: heads, pointStyle: 'triangle', rotation: heads.map(a => a.rot), pointRadius: heads.map(a => a.r), pointBackgroundColor: edgeColor, pointBorderWidth: 0 }
  ];
  leaves.forEach((q, i) => datasets.push({
    data: (bends[i] ? [q, bends[i], hub] : [q, hub]).map(pt),
    showLine: true, tension: 0.4, borderColor: edgeColor, borderWidth: widths[i], pointRadius: 0
  }));
  if (ghostNodes) datasets.push({ data: ghostNodes.map(pt), pointRadius: 7.5, pointBackgroundColor: '#e4e4e4', pointBorderWidth: 0 });
  (ghosts || []).forEach(g => datasets.push({
    data: g.map(pt), showLine: true, borderColor: '#e4e4e4', borderWidth: 5, pointRadius: 0
  }));
  new Chart(c, {
    type: 'scatter',
    data: { datasets },
    options: baseOptions({
      x: { min: b[0] + 2, max: b[0] + 2 + w, display: false },
      y: { min: b[1] + 2, max: b[1] + 2 + h, reverse: true, display: false }
    })
  });
  labels.forEach(l => text(l[0], l[1], l[2], l[3], { anchor: 'c', bold: l[4], color: '#333' }));
}

inset([205.5,363.5,299,225.5], [348,470], etmrLeaves, etmrBends, etmrWidths, '#0a72b0', '#0f9bd7', [
  ['DHX30',412.5,406,11.5],['UBE2C',262,466,11.5],['MED27',465,493,11.5],['SHPRH',246,557.7,11.5],['IAH1',391,564.3,11.5],['ETMR',348,491,11.5,true]
]);
inset([1395,74.5,297,273.5], [1543,203], acthLeaves, acthBends, acthWidths, '#035f5a', '#087a70', [
  ['MNAT1',1472,127.5,13],['C6orf89',1638,172,13],['E2F3',1431,238.6,13],['TBX19',1655,271,13],['PRMT2',1533,335.7,13],['PITAD, ACTH',1543,227.5,13,true]
]);
inset([1418,588,370.5,221], [1582,695], mn1Leaves, mn1Bends, mn1Widths, '#8a6b9e', '#bfa8cf', [
  ['GPR137',1520,643.3,10],['MUM1',1607,638,10],['DIP2C',1446.5,726,10],['TRAPPC9',1751,725.7,10],['USP20',1526,775.7,10],['HGNET, MN1',1582,713,10,true]
], [[[1430,708],[1446,708]], [[1751,707],[1776,707]], [[1752,775],[1745,807]], [[1780,792],[1762,807]]], mn1GhostNodes);
inset([296,701,298,307], [440,856], bcorLeaves, bcorBends, bcorWidths, '#2f73a6', '#7ba7d0', [
  ['SAMD11',462,752,13.4],['ICAM5',358,788,13.4],['RET',330,901.7,13.4],['ONECUT3',546,884,13.4],['PRCP',454,991,13.4],['HGNET, BCOR',440,882,13.4,true]
]);

text('a', 0, 9.4, 40, { bold: true, color: '#000' });
text('Top five probe-associated genes per tumor class', 254, 78, 25.1);
text('ETMR', 349, 613.3, 25.1, { anchor: 'c' });
text('PITAD_ACTH', 1543, 380, 25.1, { anchor: 'c' });
text('HGNET_MN1', 1611, 835, 25.1, { anchor: 'c' });
text('HGNET_BCOR', 447, 1033, 25.1, { anchor: 'c' });

// -------- panels b, d, c, e
panel({
  letter: 'b', letterX: 0, letterY: 1159.4, title: 'Chromosome 6: 146,274,988-146,287,639 (14 probes)', titleX: 222, titleY: 1184,
  span: '12 kb', gap: [44, 56.2], arrowY: 1214, tickY1: 1233.5, tickY2: 1254, green: bGreen, orange: bOrange,
  x: 226.5, w: 640.5, usageW: 640.5, usageY: 1263.5, usageH: 22, usageBreaks: bBreaks, usage: bUsage, breaks: bBreaks,
  stripX: 202, stripW: 21.5, labelX: 194.6, locY: 1244.7, useY: 1274.8, target: 'ETMR', targetY: 1322.6,
  blocks: [{ y: 1294.4, h: 55, rows: bTarget, from: 0, to: 1 }, { y: 1359, h: 323, rows: bRows, from: 1, to: 91 }],
  gene: bGene, geneY: 1701.5, geneName: 'SHPRH', geneX: 779, geneTextY: 1701.5, geneAnchor: 'l'
});
panel({
  letter: 'd', letterX: 967, letterY: 1159.4, title: 'Chromosome 1: 168,248,680-168,262,550 (7 probes)', titleX: 1144.7, titleY: 1184,
  span: '13 kb', gap: [43.7, 56.1], arrowY: 1214, tickY1: 1233.5, tickY2: 1254, green: dGreen, orange: dOrange,
  x: 1143, w: 640, usageW: 640, usageY: 1263.5, usageH: 22, usageBreaks: dBreaks, usage: dUsage, breaks: dBreaks,
  stripX: 1118.7, stripW: 21.3, labelX: 1108, locY: 1244.7, useY: 1274.8, target: 'PITAD_ACTH', targetY: 1448,
  blocks: [
    { y: 1294.4, h: 115, rows: dUpper, from: 0, to: 32 },
    { y: 1419.7, h: 54.3, rows: dTarget, from: 32, to: 33 },
    { y: 1483.6, h: 209, rows: dLower, from: 33, to: 91 }
  ],
  gene: dGene, geneY: 1712, geneName: 'TBX19', geneX: 1157.5, geneTextY: 1712, geneAnchor: 'l'
});
panel({
  letter: 'c', letterX: 0, letterY: 1821, title: 'Chromosome 19: 1,352,958-1,380,428 (43 probes)', titleX: 225, titleY: 1845.6,
  span: '27 kb', gap: [44, 56], arrowY: 1874.5, tickY1: 1895.4, tickY2: 1915.5, green: cGreen, orange: cOrange,
  x: 226.5, w: 643.5, usageW: 643.5, usageY: 1925.7, usageH: 21, usageBreaks: cUsageBreaks, usage: cUsage, breaks: cBreaks,
  stripX: 202, stripW: 21.5, labelX: 194.6, locY: 1906.6, useY: 1936.6, target: 'HGNET_MN1', targetY: 2187.5,
  blocks: [
    { y: 1957, h: 193, rows: cUpper, from: 0, to: 54 },
    { y: 2159.4, h: 56, rows: cTarget, from: 54, to: 55 },
    { y: 2224.6, h: 129.4, rows: cLower, from: 55, to: 91 }
  ],
  gene: cGene, geneY: 2374.5, geneName: 'PWWP3A', geneX: 263, geneTextY: 2374.5, geneAnchor: 'r'
});
panel({
  letter: 'e', letterX: 967, letterY: 1821, title: 'Chromosome 10: 43,570,517-43,627,799 (34 probes)', titleX: 1144.7, titleY: 1845.6,
  span: '57 kb', gap: [43.7, 56.1], arrowY: 1876, tickY1: 1899, tickY2: 1920, green: eGreen, orange: eOrange,
  x: 1143, w: 643, usageW: 640, usageY: 1929.4, usageH: 21, usageBreaks: eUsageBreaks, usage: eUsage, breaks: eBreaks,
  stripX: 1118.7, stripW: 21.3, labelX: 1108, locY: 1910.5, useY: 1940, target: 'HGNET_BCOR', targetY: 2032.5,
  blocks: [
    { y: 1960.6, h: 35, rows: eUpper, from: 0, to: 10 },
    { y: 2005.8, h: 54.4, rows: eTarget, from: 10, to: 11 },
    { y: 2070, h: 284, rows: eLower, from: 11, to: 91 }
  ],
  gene: eGene, geneY: 2374.5, geneName: 'RET', geneX: 1156, geneTextY: 2374.5, geneAnchor: 'r'
});

// -------- legends
el('b', `left:687px;top:2458px;width:5px;height:21px;background:${GREEN}`);
text('all probes', 701.5, 2468, LABEL);
el('b', `left:687px;top:2486px;width:5px;height:21px;background:${ORANGE}`);
text('10,000 selected probes', 701.5, 2493.7, LABEL);
text('Probe usage', 1063, 2451.8, LABEL, { anchor: 'c' });
text('Beta-value', 1261, 2455.5, LABEL, { anchor: 'c' });

function colorBar(x, w, max, ticks, labels, stops) {
  const padX = 24;
  const c = canvasAt(x - padX, 2475, w + padX * 2, 55);
  new Chart(c, {
    type: 'bar',
    data: { labels: [''], datasets: [{
      data: [max], barPercentage: 1, categoryPercentage: 1, borderColor: INK, borderWidth: 2, borderSkipped: false,
      backgroundColor: ctx => {
        const a = ctx.chart.chartArea;
        if (!a) return '#fff';
        const g = ctx.chart.ctx.createLinearGradient(a.left, 0, a.right, 0);
        stops.forEach(s => g.addColorStop(s[0], s[1]));
        return g;
      }
    }] },
    options: Object.assign(baseOptions({
      x: {
        min: 0, max, border: { color: '#000', width: 1.5 },
        grid: { drawOnChartArea: false, drawTicks: true, tickLength: 10, color: '#000', lineWidth: 1.5 },
        afterBuildTicks: a => { a.ticks = ticks.map(value => ({ value })); },
        afterFit: a => { a.height = 32; },
        ticks: {
          autoSkip: false, maxRotation: 0, padding: 1, color: '#111',
          font: { size: LABEL, family: 'Liberation Sans' },
          callback: v => labels[ticks.indexOf(v)]
        }
      },
      y: { display: false }
    }, { left: padX, right: padX, top: 2 }), { indexAxis: 'y' })
  });
}
colorBar(1007, 113, usageTicks[1], usageTicks, usageTickLabels, [[0,'#ffffff'],[0.35,'#a6dea6'],[0.65,'#46b85a'],[1,'#00a800']]);
colorBar(1205, 113.5, betaTicks[2], betaTicks, betaTickLabels, [[0,'#2b3fa8'],[0.5,'#ffffff'],[1,'#ff1010']]);
</script>
</body>
</html>
